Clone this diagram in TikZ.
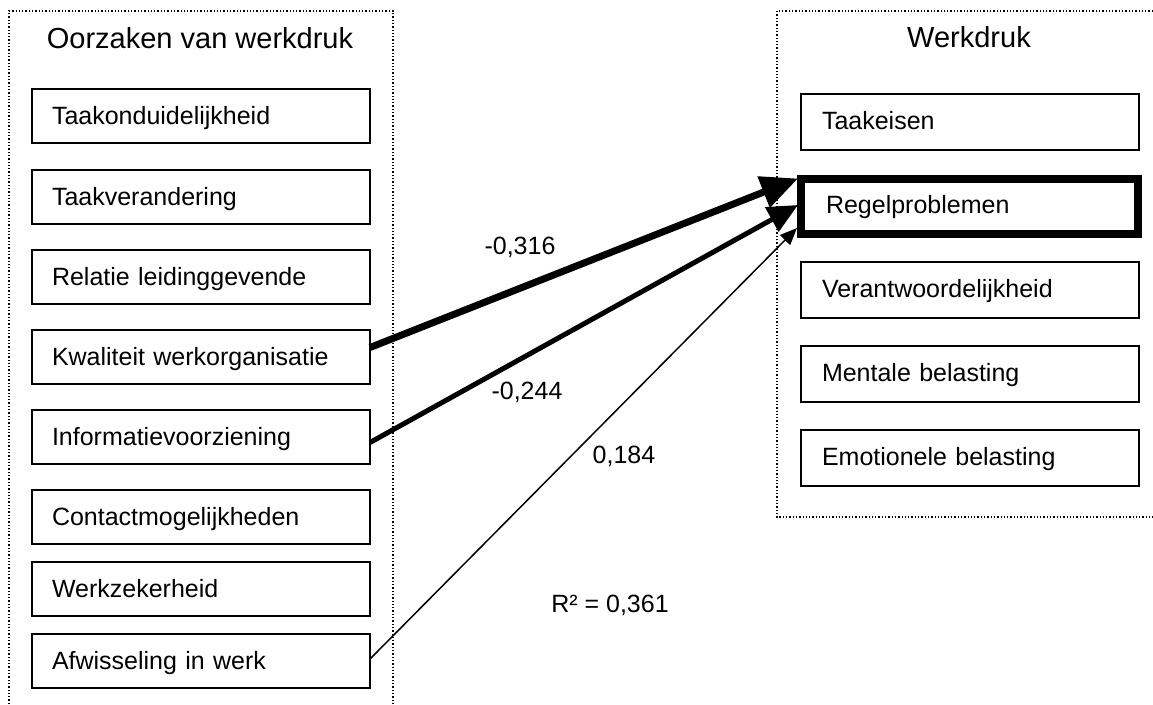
\documentclass[tikz,border=0pt]{standalone}
\usepackage{fontspec}
\setmainfont{Liberation Sans}
\usetikzlibrary{arrows.meta}
\begin{document}
\begin{tikzpicture}[x=1pt,y=-1pt,
  frame/.style={line width=1.3pt, dash pattern=on 1.3pt off 2pt},
  item/.style={draw, line width=1.6pt, anchor=north west, minimum height=54pt,
    text width=298pt, inner xsep=20pt, inner ysep=0pt, outer sep=0pt, align=left,
    text height=22pt, text depth=5pt, font=\fontsize{25}{30}\selectfont},
  ritem/.style={item, minimum height=56pt, text width=296pt, inner xsep=21pt,
    text height=20pt, text depth=6pt},
  title/.style={anchor=base, font=\fontsize{29}{34}\selectfont},
  coef/.style={anchor=base, font=\fontsize{25}{30}\selectfont},
  path1/.style={line width=7pt, -{Triangle[length=37pt,width=32pt]}},
  path2/.style={line width=5pt, -{Triangle[length=30pt,width=27pt]}},
  path3/.style={line width=1.5pt, -{Triangle[length=17pt,width=14pt]}}]
\useasboundingbox (0,0) rectangle (1153,704);

% dotted group frames (open where they run off the page)
\draw[frame] (9,704) -- (9,11) -- (393,11) -- (393,704);
\draw[frame] (1153,11) -- (777,11) -- (777,517) -- (1153,517);

\node[title] (tl) at (200,48) {Oorzaken van werkdruk};
\node[title] (tr) at (969,47) {Werkdruk};

% causes
\node[item, line width=2.2pt] (k1) at (32,89)  {Taakonduidelijkheid};
\node[item] (k2) at (32,170) {Taakverandering};
\node[item] (k3) at (32,250) {Relatie leidinggevende};
\node[item] (k4) at (32,330) {Kwaliteit werkorganisatie};
\node[item] (k5) at (32,410) {Informatievoorziening};
\node[item] (k6) at (32,490) {Contactmogelijkheden};
\node[item] (k7) at (32,562) {Werkzekerheid};
\node[item] (k8) at (32,634) {Afwisseling in werk};

% workload dimensions
\node[ritem] (w1) at (801,94)  {Taakeisen};
\node[ritem, line width=8pt, minimum height=55pt, text width=287pt,
      inner xsep=25pt] (rp) at (801,179) {Regelproblemen};
\node[ritem] (w3) at (801,262) {Verantwoordelijkheid};
\node[ritem] (w4) at (801,346) {Mentale belasting};
\node[ritem] (w5) at (801,430) {Emotionele belasting};

% effects
\draw[path1] ([yshift=9.5pt]k4.east) -- ([xshift=-3pt,yshift=28pt]rp.west);
\draw[path2] ([yshift=-5.5pt]k5.east) -- ([xshift=-3pt,yshift=1.5pt]rp.west);
\draw[path3] ([yshift=2pt]k8.east) -- ([xshift=-4pt,yshift=-21.5pt]rp.west);

\node[coef] (c1) at (520,254) {-0,316};
\node[coef] (c2) at (527,399) {-0,244};
\node[coef] (c3) at (624,463) {0,184};
\node[coef] (r2) at (610,612) {R² = 0,361};
\end{tikzpicture}
\end{document}
